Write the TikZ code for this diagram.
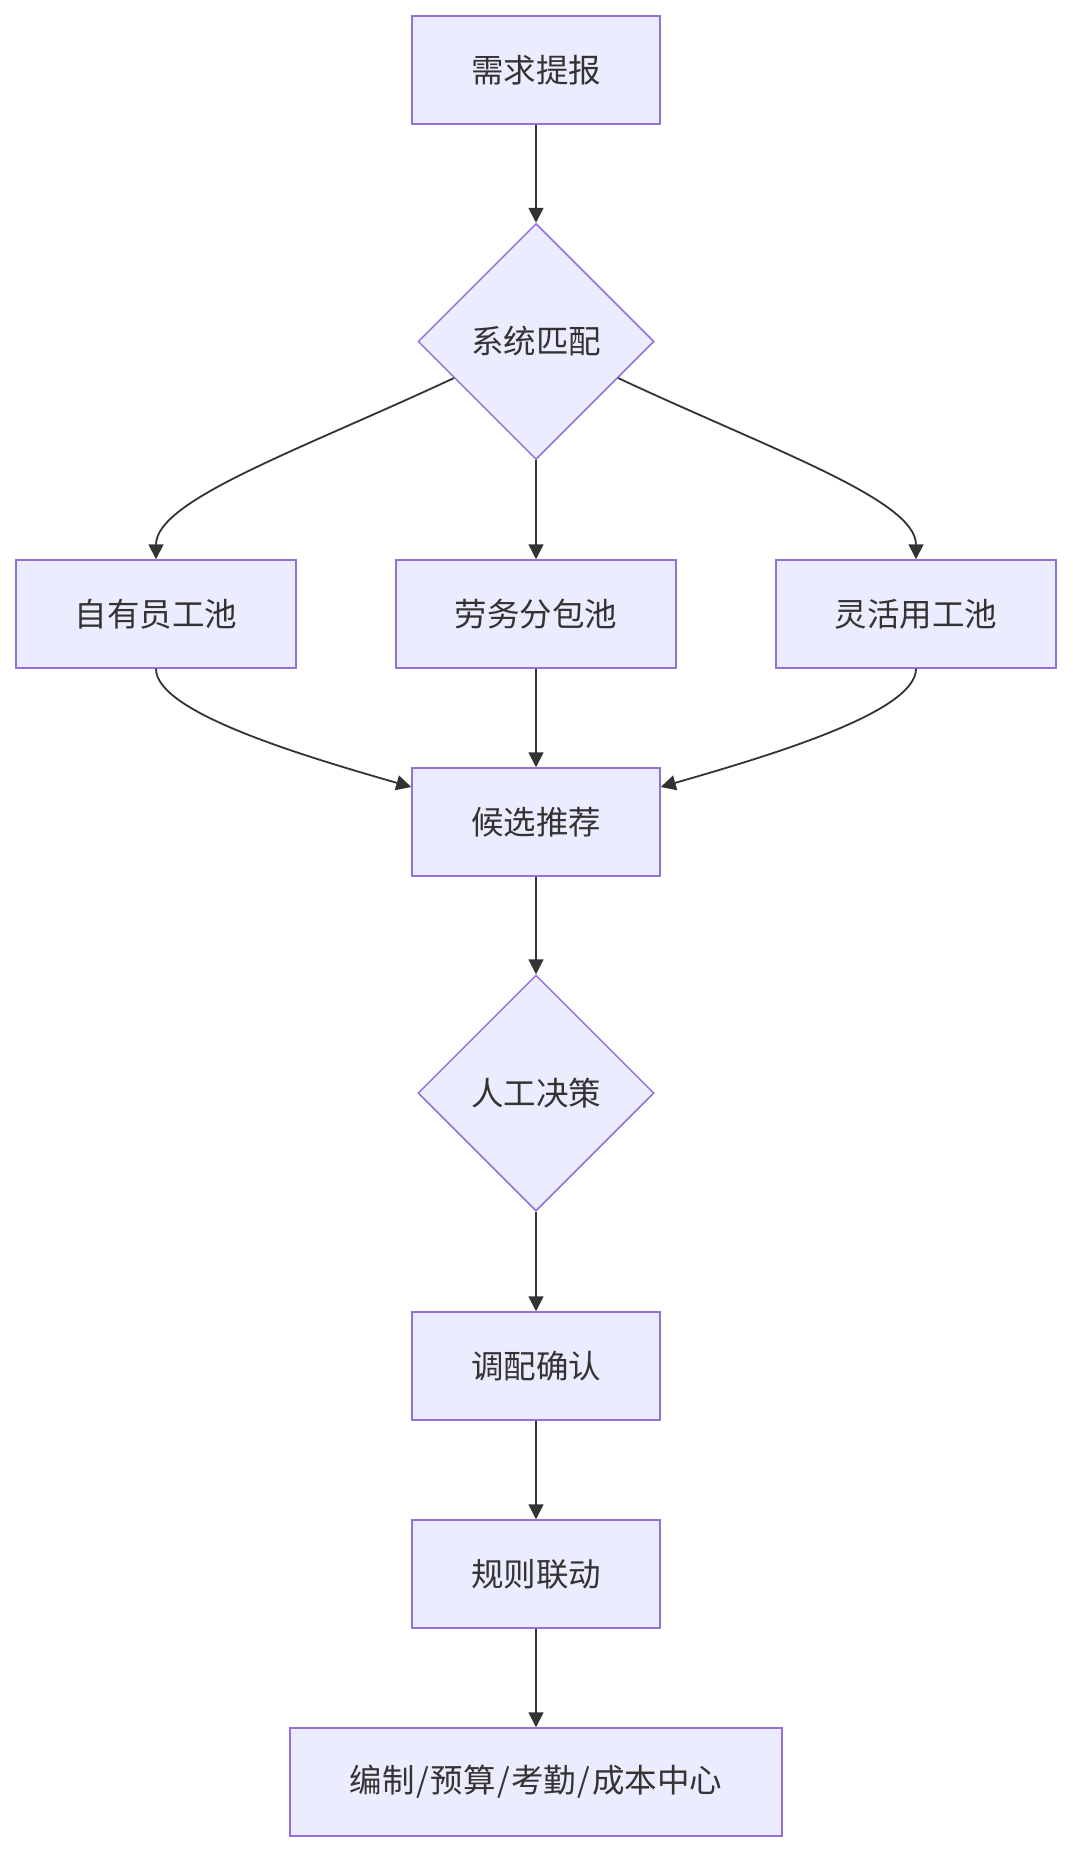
\documentclass[tikz,border=0pt]{standalone}
\usepackage{fontspec}
\setmainfont{Noto Sans CJK SC}
\usetikzlibrary{shapes.geometric,arrows.meta,calc}
\definecolor{nodefill}{HTML}{ECECFF}
\definecolor{nodeline}{HTML}{9370DB}
\definecolor{edgecol}{HTML}{333333}
\definecolor{txtcol}{HTML}{333333}
\newcommand{\slsh}{\kern1.5pt/\kern1.5pt}
\begin{document}
\begin{tikzpicture}[x=1pt,y=-1pt,
  base/.style={fill=nodefill,draw=nodeline,line width=1.5pt,text=txtcol,
    font=\fontsize{32.5}{39}\selectfont,inner sep=0pt},
  box/.style={base,rectangle,minimum width=248pt,minimum height=108pt},
  widebox/.style={base,rectangle,minimum width=280pt,minimum height=108pt},
  longbox/.style={base,rectangle,minimum width=492pt,minimum height=108pt},
  decide/.style={base,diamond,aspect=1,minimum width=236pt,minimum height=236pt},
  flow/.style={draw=edgecol,line width=1.8pt,-{Triangle[length=15pt,width=15pt]}}]
\useasboundingbox[fill=white] (0,0) rectangle (1072,1852);
\node[box] (req) at (536,70) {需求提报};
\node[decide] (match) at (536,341.5) {系统匹配};
\node[widebox] (own) at (156,614) {自有员工池};
\node[widebox] (sub) at (536,614) {劳务分包池};
\node[widebox] (flex) at (916,614) {灵活用工池};
\node[box] (cand) at (536,822) {候选推荐};
\node[decide] (human) at (536,1093) {人工决策};
\node[box] (conf) at (536,1366) {调配确认};
\node[box] (rule) at (536,1574) {规则联动};
\node[longbox] (sys) at (536,1782) {编制\slsh 预算\slsh 考勤\slsh 成本中心};
\coordinate (candL) at ([yshift=35pt]cand.west);
\coordinate (candR) at ([yshift=35pt]cand.east);
\draw[flow] (req.south) -- (match.north);
\draw[flow] (match.south) -- (sub.north);
\draw[flow] (match.204) .. controls (300,450) and (156,500) .. (own.north);
\draw[flow] (match.-24) .. controls (772,450) and (916,500) .. (flex.north);
\draw[flow] (sub.south) -- (cand.north);
\draw[flow] (own.south) .. controls (156,712) and (300,755) .. (candL);
\draw[flow] (flex.south) .. controls (916,712) and (772,755) .. (candR);
\draw[flow] (cand.south) -- (human.north);
\draw[flow] (human.south) -- (conf.north);
\draw[flow] (conf.south) -- (rule.north);
\draw[flow] (rule.south) -- (sys.north);
\end{tikzpicture}
\end{document}
